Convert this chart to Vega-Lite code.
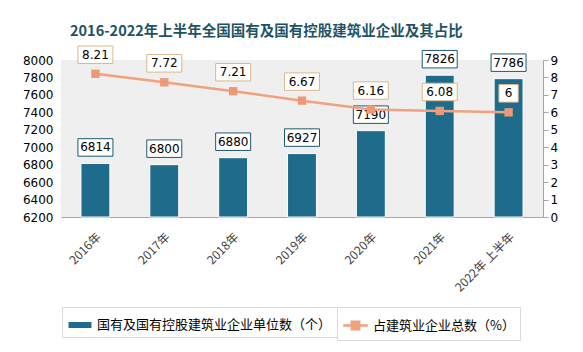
{
  "$schema": "https://vega.github.io/schema/vega-lite/v6.json",
  "width": 482,
  "height": 157,
  "autosize": "none",
  "padding": {"left": 61, "top": 60, "right": 40, "bottom": 135},
  "background": "#ffffff",
  "config": {"view": {"stroke": null, "fill": "#efefef"}},
  "title": {"text": "2016-2022年上半年全国国有及国有控股建筑业企业及其占比", "anchor": "start", "dx": 9, "frame": "group", "offset": 5, "fontSize": 14.5, "font": "Noto Sans CJK SC", "fontWeight": "bold", "color": "#1E5364"},
  "data": {"values": [
    {"year": "2016年", "count": 6814, "pct": 8.21},
    {"year": "2017年", "count": 6800, "pct": 7.72},
    {"year": "2018年", "count": 6880, "pct": 7.21},
    {"year": "2019年", "count": 6927, "pct": 6.67},
    {"year": "2020年", "count": 7190, "pct": 6.16},
    {"year": "2021年", "count": 7826, "pct": 6.08},
    {"year": "2022年 上半年", "count": 7786, "pct": 6}
  ]},
  "encoding": {
    "x": {"field": "year", "type": "nominal", "sort": null,
      "scale": {"paddingInner": 0.58, "paddingOuter": 0.29},
      "axis": {"title": null, "labelAngle": -45, "ticks": false, "domainColor": "#a6a6a6", "labelFontSize": 12, "labelColor": "#404040", "labelPadding": 14, "labelFont": "Noto Sans CJK SC"}}
  },
  "layer": [
    {"encoding": {
       "y": {"field": "count", "type": "quantitative", "scale": {"domain": [6200, 8000], "zero": false},
         "axis": {"title": null, "orient": "left", "values": [6200, 6400, 6600, 6800, 7000, 7200, 7400, 7600, 7800, 8000], "format": "d", "labelOverlap": false, "domain": false, "ticks": false, "grid": false, "labelFontSize": 12, "labelColor": "#000000", "labelFont": "DejaVu Sans", "labelPadding": 8}}
     },
     "layer": [
      {"mark": {"type": "bar", "stroke": "white", "strokeWidth": 1},
       "encoding": {
         "y2": {"datum": 6200},
         "fill": {"datum": "国有及国有控股建筑业企业单位数（个）", "scale": {"range": ["#1F6B8C"]},
           "legend": {"orient": "none", "legendX": 1, "legendY": 247, "title": null, "padding": 5, "strokeColor": "#d9d9d9", "symbolType": "M-1,-0.3H1V0.3H-1Z", "symbolSize": 600, "labelLimit": 0, "labelFontSize": 13, "labelFont": "Noto Sans CJK SC", "labelColor": "#000000"}}
       }},
      {"mark": {"type": "point", "shape": "M-1,-0.5H1V0.5H-1Z", "size": 1225, "filled": true, "fill": "white", "stroke": "#1D5A70", "strokeWidth": 1, "opacity": 1, "yOffset": -16}},
      {"mark": {"type": "text", "yOffset": -16, "fontSize": 12, "font": "DejaVu Sans", "color": "#000000"},
       "encoding": {"text": {"field": "count", "type": "quantitative", "format": "d"}}}
    ]},
    {"encoding": {
       "y": {"field": "pct", "type": "quantitative", "scale": {"domain": [0, 9]},
         "axis": {"title": null, "orient": "right", "values": [0, 1, 2, 3, 4, 5, 6, 7, 8, 9], "labelOverlap": false, "domainColor": "#a6a6a6", "tickColor": "#a6a6a6", "tickSize": 5, "grid": false, "labelFontSize": 12, "labelColor": "#000000", "labelFont": "DejaVu Sans", "labelPadding": 2}}
     },
     "layer": [
      {"mark": {"type": "line", "strokeWidth": 2.5},
       "encoding": {
         "stroke": {"datum": "占建筑业企业总数（%）", "scale": {"range": ["#F0A27E"]},
           "legend": {"orient": "none", "legendX": 276, "legendY": 247, "title": null, "padding": 5, "strokeColor": "#d9d9d9", "symbolType": "M-1,0H1M-0.3,-0.3H0.3V0.3H-0.3Z", "symbolSize": 600, "symbolStrokeWidth": 2.5, "symbolFillColor": "#F0A27E", "labelLimit": 0, "labelFontSize": 13, "labelFont": "Noto Sans CJK SC", "labelColor": "#000000"}}
       }},
      {"mark": {"type": "point", "shape": "square", "size": 70, "filled": true, "color": "#EC9A76", "opacity": 1}},
      {"mark": {"type": "point", "size": 1225, "filled": true, "fill": "white", "stroke": "#D9B98C", "strokeWidth": 1, "opacity": 1, "yOffset": -19},
       "encoding": {
         "shape": {"condition": {"test": "datum.pct == 6", "value": "M-0.55,-0.5H0.55V0.5H-0.55Z"}, "value": "M-1,-0.5H1V0.5H-1Z"}}},
      {"mark": {"type": "text", "yOffset": -19, "fontSize": 12, "font": "DejaVu Sans", "color": "#000000"},
       "encoding": {"text": {"field": "pct", "type": "quantitative", "format": ".3~g"}}}
    ]}
  ],
  "resolve": {"scale": {"y": "independent"}}
}
